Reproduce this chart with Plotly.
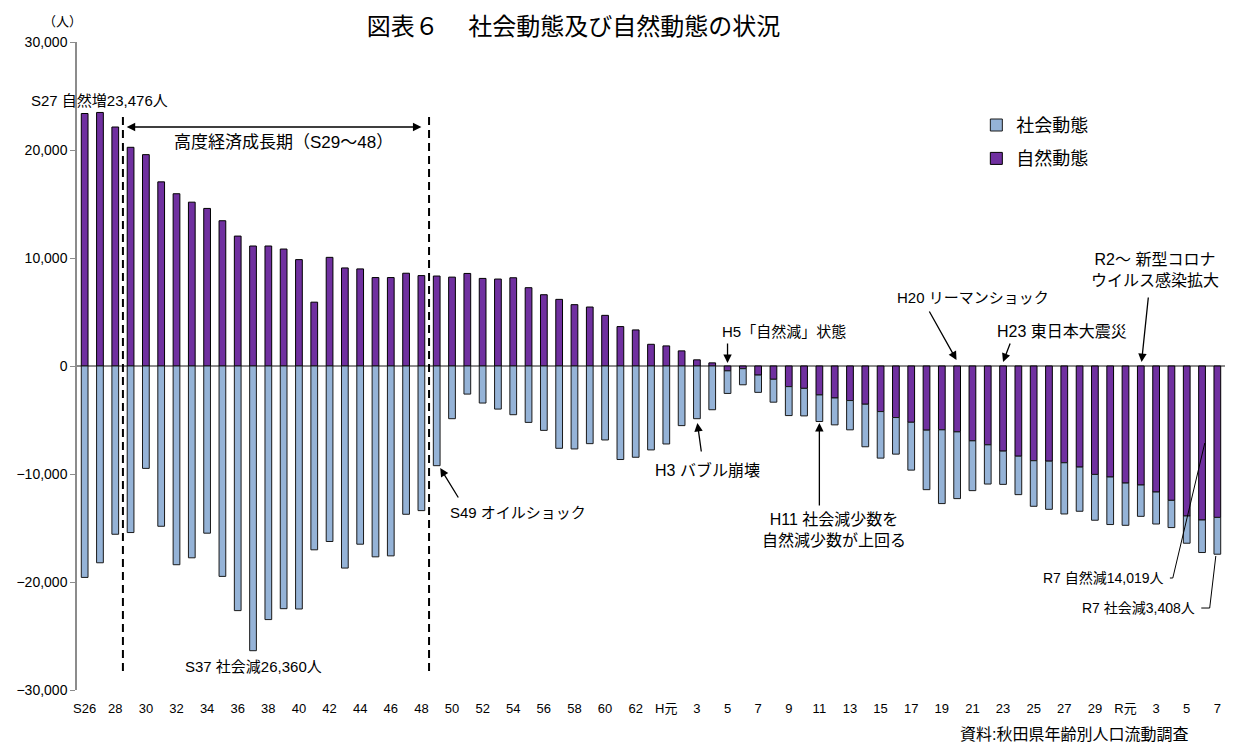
import plotly.graph_objects as go

years = [1951, 1952, 1953, 1954, 1955, 1956, 1957, 1958, 1959, 1960,
         1961, 1962, 1963, 1964, 1965, 1966, 1967, 1968, 1969, 1970,
         1971, 1972, 1973, 1974, 1975, 1976, 1977, 1978, 1979, 1980,
         1981, 1982, 1983, 1984, 1985, 1986, 1987, 1988, 1989, 1990,
         1991, 1992, 1993, 1994, 1995, 1996, 1997, 1998, 1999, 2000,
         2001, 2002, 2003, 2004, 2005, 2006, 2007, 2008, 2009, 2010,
         2011, 2012, 2013, 2014, 2015, 2016, 2017, 2018, 2019, 2020,
         2021, 2022, 2023, 2024, 2025]

natural = [23380, 23476, 22130, 20250, 19570, 17050, 15950, 15170, 14590, 13450,
           12030, 11110, 11110, 10830, 9850, 5910, 10060, 9080, 8990, 8190,
           8190, 8590, 8370, 8330, 8230, 8570, 8110, 8050, 8170, 7250,
           6600, 6170, 5680, 5460, 4690, 3650, 3340, 2010, 1860, 1400,
           570, 290, -450, -250, -840, -1230, -1910, -2070, -2680, -2960,
           -3200, -3540, -4220, -4770, -5210, -5940, -5910, -6100, -6930, -7300,
           -7880, -8350, -8770, -8810, -8960, -9360, -10040, -10280, -10840, -11020,
           -11670, -12440, -13890, -14260, -14019]

social = [-19575, -18220, -15580, -15420, -9480, -14840, -18400, -17760, -15480, -19480,
          -22650, -26360, -23480, -22470, -22500, -17020, -16250, -18710, -16500, -17670,
          -17580, -13730, -13390, -9230, -4880, -2600, -3430, -3990, -4510, -5220,
          -5960, -7620, -7680, -7190, -6850, -8660, -8450, -7770, -7220, -5520,
          -4880, -4050, -2090, -1490, -1600, -2120, -2680, -2550, -2460, -2490,
          -2710, -3940, -4310, -3390, -4430, -5510, -6830, -6180, -4610, -3630,
          -3080, -3560, -4220, -4460, -4740, -4090, -4240, -4400, -3910, -2900,
          -2960, -2520, -2520, -3010, -3408]

tick_years = [1951, 1953, 1955, 1957, 1959, 1961, 1963, 1965, 1967, 1969,
              1971, 1973, 1975, 1977, 1979, 1981, 1983, 1985, 1987, 1989,
              1991, 1993, 1995, 1997, 1999, 2001, 2003, 2005, 2007, 2009,
              2011, 2013, 2015, 2017, 2019, 2021, 2023, 2025]
tick_labels = ["S26", "28", "30", "32", "34", "36", "38", "40", "42", "44",
               "46", "48", "50", "52", "54", "56", "58", "60", "62", "H元",
               "3", "5", "7", "9", "11", "13", "15", "17", "19", "21",
               "23", "25", "27", "29", "R元", "3", "5", "7"]

FONT = "Liberation Sans, Noto Sans CJK JP"
TFONT = "Noto Sans CJK JP"
PURPLE = "#7030A0"
BLUE = "#95B3D7"

fig = go.Figure()
fig.add_trace(go.Bar(
    x=years, y=natural, name="自然動態", width=0.44,
    marker=dict(color=PURPLE, line=dict(color="#000000", width=1)),
    legendgroup="n", legendrank=2,
))
fig.add_trace(go.Bar(
    x=years, y=social, name="社会動態", width=0.44,
    marker=dict(color=BLUE, line=dict(color="#1a1a1a", width=1)),
    legendgroup="s", legendrank=1,
))

annotations = []

def text(x, y, t, xanchor="left", size=15, xref="x", yref="y"):
    annotations.append(dict(x=x, y=y, xref=xref, yref=yref, text=t, showarrow=False,
                            xanchor=xanchor, yanchor="middle",
                            font=dict(family=FONT, size=size, color="#000000")))

def arrow(x, y, ax, ay, side="end"):
    annotations.append(dict(x=x, y=y, ax=ax, ay=ay, xref="x", yref="y", axref="x", ayref="y",
                            text="", showarrow=True, arrowhead=2, arrowsize=1.3, arrowwidth=1.3,
                            arrowcolor="#000000", arrowside=side, standoff=0, startstandoff=0))

text(1952.0, 24600, "S27 自然増23,476人", xanchor="center")
text(1964.0, 20740, "高度経済成長期（S29～48）", xanchor="center", size=17)
arrow(1973.0, 22130, 1953.65, 22130, side="end+start")
text(1962.0, -27780, "S37 社会減26,360人", xanchor="center")
text(1974.76, -13520, "S49 オイルショック")
arrow(1974.23, -9445, 1975.47, -12315)
text(1988.1, -9630, "H3 バブル崩壊", size=16)
arrow(1991.03, -5280, 1991.3, -8055)
text(1992.54, 3240, "H5「自然減」状態")
arrow(1993.0, 280, 1993.0, 2220)
text(1995.15, -15190, "H11 社会減少数を<br>自然減少数が上回る", size=16)
arrow(1999.0, -5280, 1999.0, -13060)
text(2003.97, 6300, "H20 リーマンショック")
arrow(2007.96, 555, 2006.13, 5185)
text(2010.5, 3240, "H23 東日本大震災", size=16)
arrow(2011.0, 370, 2011.5, 2220)
text(2016.6, 8890, "R2～ 新型コロナ<br>ウイルス感染拡大", size=16)
arrow(2020.05, 370, 2020.5, 6480)
text(2021.67, -19630, "R7 自然減14,019人", xanchor="right", size=14)
text(2023.68, -22410, "R7 社会減3,408人", xanchor="right", size=14)
text(0.9695, -0.0694, "資料:秋田県年齢別人口流動調査", xanchor="right", size=16, xref="paper", yref="paper")
text(-0.013, 1.031, "（人）", xanchor="center", size=13, xref="paper", yref="paper")

shapes = []
for xv in (1953.5, 1973.5):
    shapes.append(dict(type="line", xref="x", yref="y", x0=xv, x1=xv, y0=23060, y1=-28330,
                       line=dict(color="#000000", width=2, dash="8px,5px")))
# leader lines for R7 labels
shapes.append(dict(type="path", xref="x", yref="y",
                   path="M 2021.9,-19630 L 2022.09,-19630 L 2024.18,-7130",
                   line=dict(color="#000000", width=1)))
shapes.append(dict(type="path", xref="x", yref="y",
                   path="M 2023.95,-22410 L 2024.5,-22410 L 2024.9,-17590",
                   line=dict(color="#000000", width=1)))

# the page body adds an 8px offset, so the figure is sized to fit the window
fig.update_layout(
    barmode="relative",
    width=1227, height=734,
    margin=dict(l=69, r=10, t=34, b=52, autoexpand=False),
    paper_bgcolor="white", plot_bgcolor="white",
    font=dict(family=FONT, size=12, color="#000000"),
    title=dict(text="図表６　 社会動態及び自然動態の状況", x=0.4609, xanchor="center",
               y=0.974, yanchor="middle",
               font=dict(family=TFONT, size=24, color="#000000")),
    legend=dict(x=0.7834, y=0.90, xanchor="left", yanchor="top",
                font=dict(family=TFONT, size=18, color="#000000"),
                traceorder="grouped", tracegroupgap=7, bgcolor="rgba(0,0,0,0)"),
    annotations=annotations,
    shapes=shapes,
    showlegend=True,
)
fig.update_xaxes(range=[1950.5, 2025.5], tickvals=tick_years, ticktext=tick_labels,
                 showline=False, ticks="", showgrid=False, zeroline=False, automargin=False,
                 tickfont=dict(family=FONT, size=13), ticklabelstandoff=9)
fig.update_yaxes(range=[-30000, 30000], dtick=10000, tickformat=",",
                 showline=True, linecolor="#8c8c8c", linewidth=1.5, automargin=False,
                 ticks="outside", ticklen=5, tickcolor="#8c8c8c",
                 showgrid=False, zeroline=True, zerolinecolor="#8c8c8c", zerolinewidth=2,
                 tickfont=dict(family=FONT, size=14))

fig.write_html("out.html")
